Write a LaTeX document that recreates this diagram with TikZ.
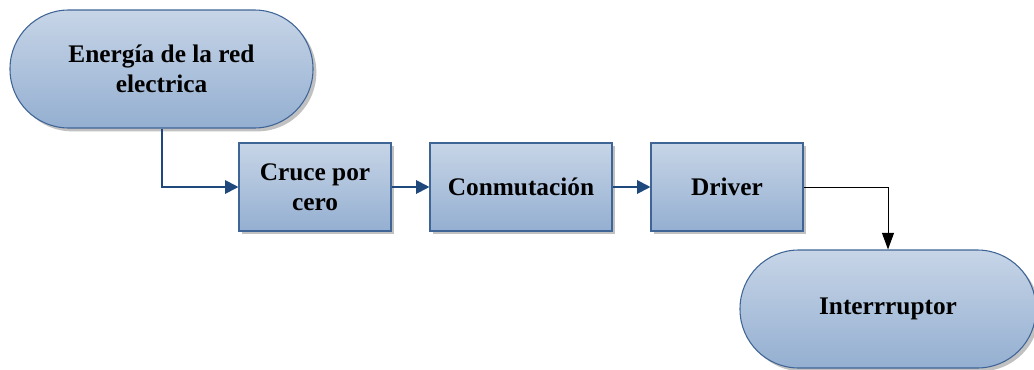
\documentclass[tikz,border=0pt]{standalone}
\usepackage{fontspec}
\setmainfont{Liberation Serif}
\usetikzlibrary{arrows.meta,shadows}

\definecolor{boxtop}{HTML}{C7D5E7}
\definecolor{boxbot}{HTML}{94AFD1}
\definecolor{boxline}{HTML}{3F6496}
\definecolor{flowblue}{HTML}{1F497D}

\tikzset{
  blockbase/.style={draw=boxline, line width=0.8pt, top color=boxtop, bottom color=boxbot,
    align=center, inner sep=0pt, font=\fontsize{19}{22.5}\selectfont\bfseries,
    drop shadow={shadow xshift=2.5pt, shadow yshift=-2.5pt, fill=black!35, opacity=0.7}},
  terminal/.style={blockbase, rounded corners=44pt, minimum width=#1, minimum height=88.5pt},
  stepbox/.style={blockbase, minimum width=#1, minimum height=66pt},
  flow/.style={-{Triangle[length=10pt,width=10pt]}, draw=flowblue, line width=1.5pt},
  flowthin/.style={-{Triangle[length=12.5pt,width=9pt]}, draw=black, line width=0.75pt}
}

\begin{document}
\begin{tikzpicture}[x=0.75pt,y=0.75pt]
  \useasboundingbox (0,0) rectangle (1034,369);

  \node[terminal=227.25pt] at (161.5,300) (ENER) {Energía de la red\\electrica};
  \node[stepbox=114pt] at (315,182) (CRUCE) {Cruce por\\cero};
  \node[stepbox=136.5pt] at (521,182) (CONM) {Conmutación};
  \node[stepbox=114pt] at (727,182) (DRV) {Driver};
  \node[terminal=222pt] at (888,60) (INTR) {Interrruptor};

  \draw[flow] (ENER.south) |- (CRUCE.west);
  \draw[flow] (CRUCE) -- (CONM);
  \draw[flow] (CONM) -- (DRV);
  \draw[flowthin] (DRV.east) -| (INTR.north);
\end{tikzpicture}
\end{document}
